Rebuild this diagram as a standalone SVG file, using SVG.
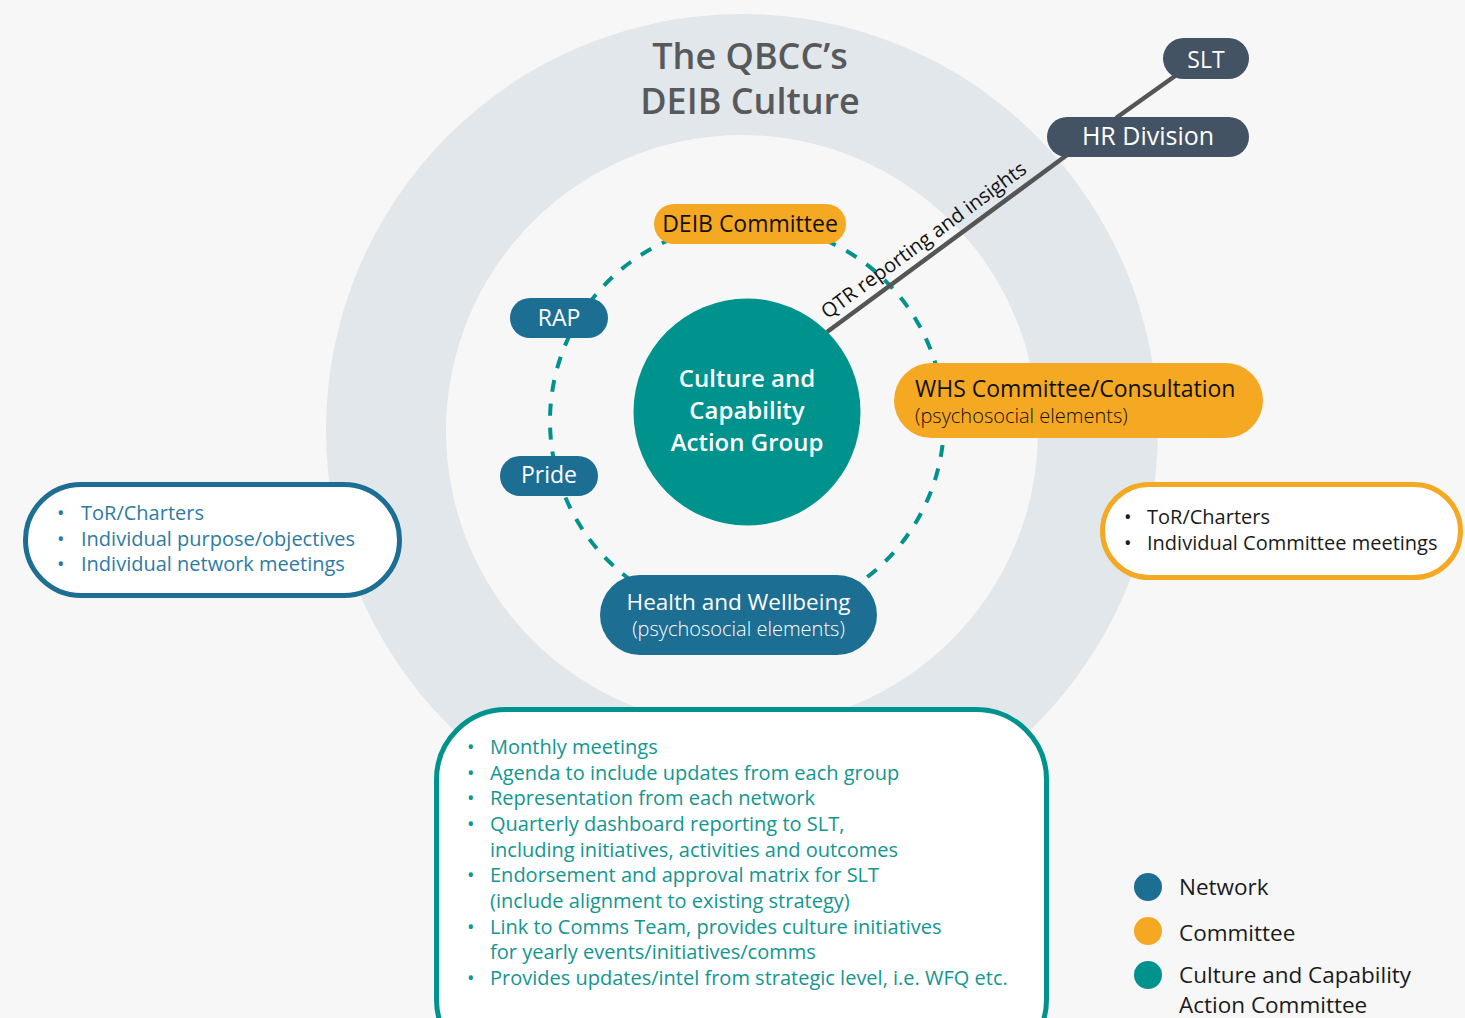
<svg xmlns="http://www.w3.org/2000/svg" width="1465" height="1018" viewBox="0 0 1465 1018">
  <style>
    text { font-family: "Open Sans", "Liberation Sans", sans-serif; }
    .title { font-size: 36px; font-weight: 600; fill: #58595b; text-anchor: middle; }
    .pill-net { fill: #1d6e93; }
    .pill-com { fill: #f5a822; }
    .pill-hr { fill: #445363; }
    .lbl { font-size: 23px; text-anchor: middle; }
    .lbl-w { fill: #ffffff; }
    .lbl-k { fill: #111111; }
    .sub { font-size: 20px; font-weight: 300; }
    .core { font-size: 24px; font-weight: 600; fill: #ffffff; text-anchor: middle; }
    .link { stroke: #555555; stroke-width: 4.5; fill: none; }
    .ring { fill: none; stroke: #00938e; stroke-width: 4; stroke-dasharray: 12 12; }
    .box { fill: #ffffff; stroke-width: 5; }
    .item { font-size: 20px; }
    .legend { font-size: 22.5px; fill: #1a1a1a; }
  </style>

  <!-- backdrop and concentric culture rings -->
  <rect x="0" y="0" width="1465" height="1018" fill="#f7f7f7"/>
  <circle cx="742" cy="430" r="416" fill="#e2e7eb"/>
  <circle cx="742" cy="431" r="296" fill="#f7f7f7"/>

  <text class="title" x="750" y="69">The QBCC’s</text>
  <text class="title" x="750" y="114">DEIB Culture</text>

  <!-- dashed network ring -->
  <circle class="ring" cx="747" cy="421" r="197"/>

  <!-- connectors -->
  <g id="connectors">
    <line class="link" x1="827" y1="332" x2="1067" y2="155"/>
    <line class="link" x1="1116" y1="118" x2="1175" y2="76"/>
    <text transform="translate(933 253) rotate(-36.4)" x="0" y="-9" font-size="20" fill="#111" text-anchor="middle">QTR reporting and insights</text>
  </g>

  <g id="node-slt">
    <rect class="pill-hr" x="1163" y="38" width="86" height="41" rx="20.5"/>
    <text class="lbl lbl-w" x="1206" y="68" font-size="24">SLT</text>
  </g>
  <g id="node-hr">
    <rect class="pill-hr" x="1047" y="117" width="202" height="40" rx="20"/>
    <text class="lbl lbl-w" x="1148" y="145" style="font-size:25px">HR Division</text>
  </g>

  <g id="node-core">
    <circle cx="747" cy="412" r="113.5" fill="#00938e"/>
    <text class="core" x="747" y="387">Culture and</text>
    <text class="core" x="747" y="419">Capability</text>
    <text class="core" x="747" y="451">Action Group</text>
  </g>

  <g id="node-deib">
    <rect class="pill-com" x="654" y="204" width="192" height="40" rx="20"/>
    <text class="lbl lbl-k" x="750" y="232">DEIB Committee</text>
  </g>
  <g id="node-rap">
    <rect class="pill-net" x="510" y="298" width="98" height="40" rx="20"/>
    <text class="lbl lbl-w" x="559" y="326">RAP</text>
  </g>
  <g id="node-pride">
    <rect class="pill-net" x="500" y="456" width="98" height="40" rx="20"/>
    <text class="lbl lbl-w" x="549" y="483">Pride</text>
  </g>
  <g id="node-whs">
    <rect class="pill-com" x="894" y="363" width="369" height="75" rx="37.5"/>
    <text class="lbl-k" x="915" y="397" font-size="23">WHS Committee/Consultation</text>
    <text class="lbl-k sub" x="915" y="423">(psychosocial elements)</text>
  </g>
  <g id="node-health">
    <rect class="pill-net" x="600" y="575" width="277" height="80" rx="40"/>
    <text class="lbl lbl-w" x="738.5" y="610" style="font-size:22.5px">Health and Wellbeing</text>
    <text class="lbl-w sub" x="738.5" y="636" text-anchor="middle">(psychosocial elements)</text>
  </g>

  <!-- network notes -->
  <g id="note-network">
    <rect class="box" x="25.5" y="484.5" width="374" height="111" rx="55.5" stroke="#1d6e93"/>
    <g class="item" fill="#2f7aa3">
      <text x="57" y="520">•</text><text x="81" y="520">ToR/Charters</text>
      <text x="57" y="546">•</text><text x="81" y="546">Individual purpose/objectives</text>
      <text x="57" y="571">•</text><text x="81" y="571">Individual network meetings</text>
    </g>
  </g>

  <!-- committee notes -->
  <g id="note-committee">
    <rect class="box" x="1102.5" y="484.5" width="358" height="93" rx="46.5" stroke="#f5a822"/>
    <g class="item" fill="#1a1a1a">
      <text x="1124" y="524">•</text><text x="1147" y="524">ToR/Charters</text>
      <text x="1124" y="550">•</text><text x="1147" y="550">Individual Committee meetings</text>
    </g>
  </g>

  <!-- action group notes -->
  <g id="note-action-group">
    <rect class="box" x="436.5" y="709.5" width="610" height="360" rx="70" stroke="#00938e"/>
    <g class="item" fill="#12968f">
      <text x="467" y="754">•</text><text x="490" y="754">Monthly meetings</text>
      <text x="467" y="780">•</text><text x="490" y="780">Agenda to include updates from each group</text>
      <text x="467" y="805">•</text><text x="490" y="805">Representation from each network</text>
      <text x="467" y="831">•</text><text x="490" y="831">Quarterly dashboard reporting to SLT,</text>
      <text x="490" y="857">including initiatives, activities and outcomes</text>
      <text x="467" y="882">•</text><text x="490" y="882">Endorsement and approval matrix for SLT</text>
      <text x="490" y="908">(include alignment to existing strategy)</text>
      <text x="467" y="934">•</text><text x="490" y="934">Link to Comms Team, provides culture initiatives</text>
      <text x="490" y="959">for yearly events/initiatives/comms</text>
      <text x="467" y="985">•</text><text x="490" y="985">Provides updates/intel from strategic level, i.e. WFQ etc.</text>
    </g>
  </g>

  <!-- legend -->
  <g id="legend">
    <circle cx="1148" cy="887" r="14" fill="#1d6e93"/>
    <circle cx="1148" cy="931" r="14" fill="#f5a822"/>
    <circle cx="1148" cy="975" r="14" fill="#00938e"/>
    <text class="legend" x="1179" y="895">Network</text>
    <text class="legend" x="1179" y="941">Committee</text>
    <text class="legend" x="1179" y="983">Culture and Capability</text>
    <text class="legend" x="1179" y="1013">Action Committee</text>
  </g>
</svg>
